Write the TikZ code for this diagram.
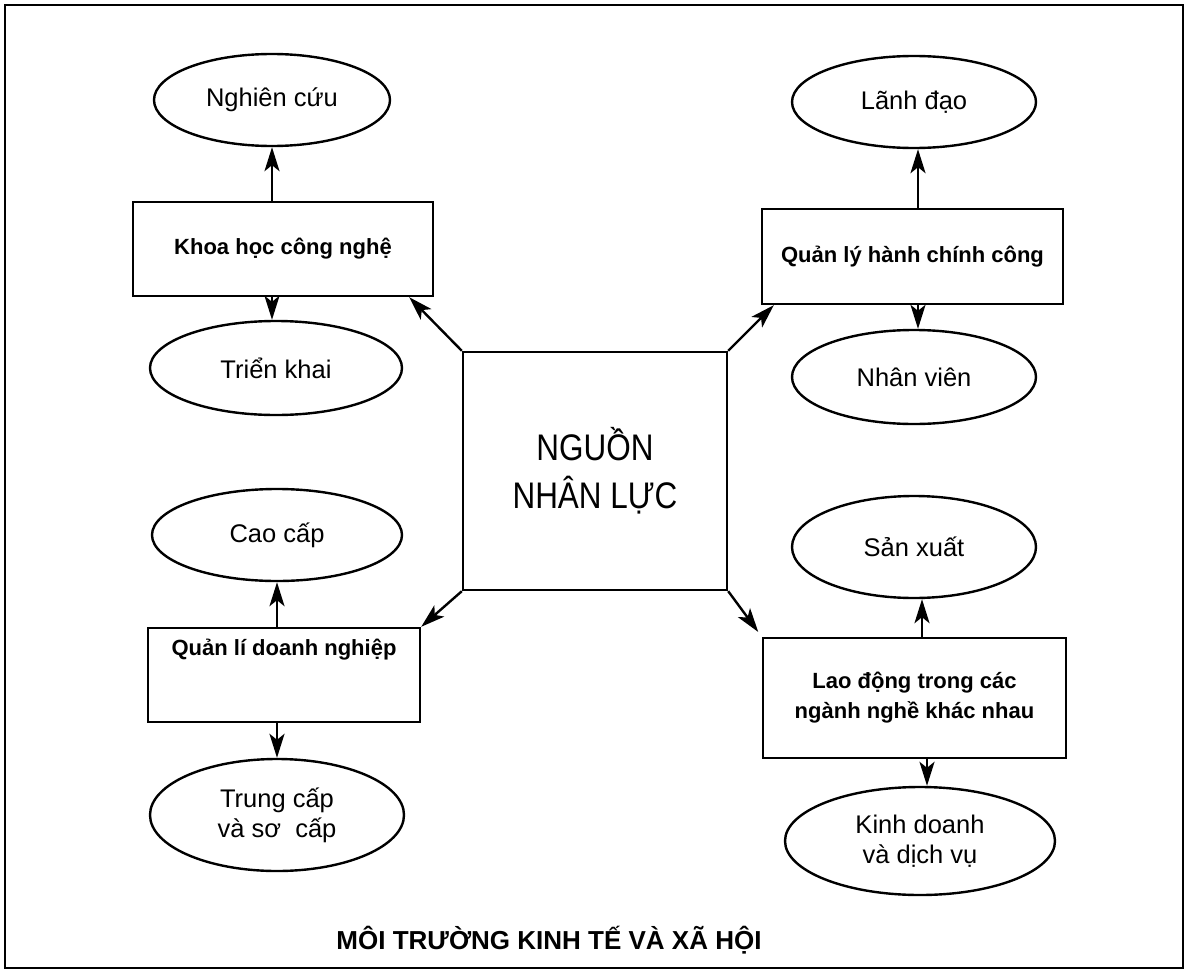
\documentclass[tikz,border=0pt]{standalone}
\usepackage{fontspec}
\setmainfont{Liberation Sans}
\newfontfamily\condfont[FakeStretch=0.85]{Liberation Sans}
\usetikzlibrary{shapes.geometric,arrows.meta}
\begin{document}
\begin{tikzpicture}[x=1pt,y=-1pt,
  line width=2.4pt,
  oval/.style={draw,ellipse,inner sep=0pt,font=\fontsize{25.5}{30}\selectfont,align=center},
  box/.style={draw,rectangle,inner sep=0pt,font=\bfseries\fontsize{22}{30}\selectfont,align=center},
  arr/.style={-{Stealth[length=24pt,width=15pt,inset=6pt]}}
]
\useasboundingbox (0,0) rectangle (1188,974);
\draw[line width=2.4pt] (5,5) rectangle (1183,968);

% centre
\node[draw,rectangle,minimum width=264pt,minimum height=238pt,inner sep=0pt,
  font=\condfont\fontsize{37}{48}\selectfont,align=center] (c) at (595,471) {NGUỒN\\NHÂN LỰC};

% left top
\node[oval,minimum width=236pt,minimum height=92pt] (nc) at (272,100) {Nghiên cứu};
\node[box,minimum width=300pt,minimum height=94pt] (kh) at (283,249) {Khoa học công nghệ};
\node[oval,minimum width=252pt,minimum height=94pt] (tk) at (276,368) {Triển khai};

% left bottom
\node[oval,minimum width=250pt,minimum height=92pt] (cc) at (277,535) {Cao cấp};
\node[box,minimum width=272pt,minimum height=94pt,text depth=56pt] (ql) at (284,675) {Quản lí doanh nghiệp};
\node[oval,minimum width=254pt,minimum height=112pt] (tc) at (277,815) {Trung cấp\\và sơ\ \ cấp};

% right top
\node[oval,minimum width=244pt,minimum height=92pt] (ld) at (914,102) {Lãnh đạo};
\node[box,minimum width=301pt,minimum height=95pt] (hc) at (912.5,256.5) {Quản lý hành chính công};
\node[oval,minimum width=244pt,minimum height=94pt] (nv) at (914,377) {Nhân viên};

% right bottom
\node[oval,minimum width=244pt,minimum height=102pt] (sx) at (914,547) {Sản xuất};
\node[box,minimum width=303pt,minimum height=120pt] (la) at (914.5,698) {Lao động trong các\\ngành nghề khác nhau};
\node[oval,minimum width=270pt,minimum height=108pt] (kd) at (920,841) {Kinh doanh\\và dịch vụ};

% bottom title
\node[font=\bfseries\fontsize{26}{30}\selectfont] (mt) at (549,940) {MÔI TRƯỜNG KINH TẾ VÀ XÃ HỘI};

% arrows from centre
\draw[arr] (c.north west) -- ([xshift=-25pt]kh.south east);
\draw[arr] (c.north east) -- ([xshift=13pt]hc.south west);
\draw[arr] (c.south west) -- (ql.north east);
\draw[arr,shorten >=6pt] (c.south east) -- (la.north west);

% vertical arrows
\draw[arr] (kh.north -| nc.south) -- (nc.south);
\draw[arr] (kh.south -| nc.south) -- (tk.north -| nc.south);
\draw[arr] (ql.north -| cc.south) -- (cc.south);
\draw[arr] (ql.south -| cc.south) -- (tc.north);
\draw[arr] (hc.north -| 918,0) -- (ld.south -| 918,0);
\draw[arr] (hc.south -| 918,0) -- (nv.north -| 918,0);
\draw[arr] (la.north -| 922,0) -- (sx.south -| 922,0);
\draw[arr] (la.south -| 927,0) -- (kd.north -| 927,0);
\end{tikzpicture}
\end{document}
